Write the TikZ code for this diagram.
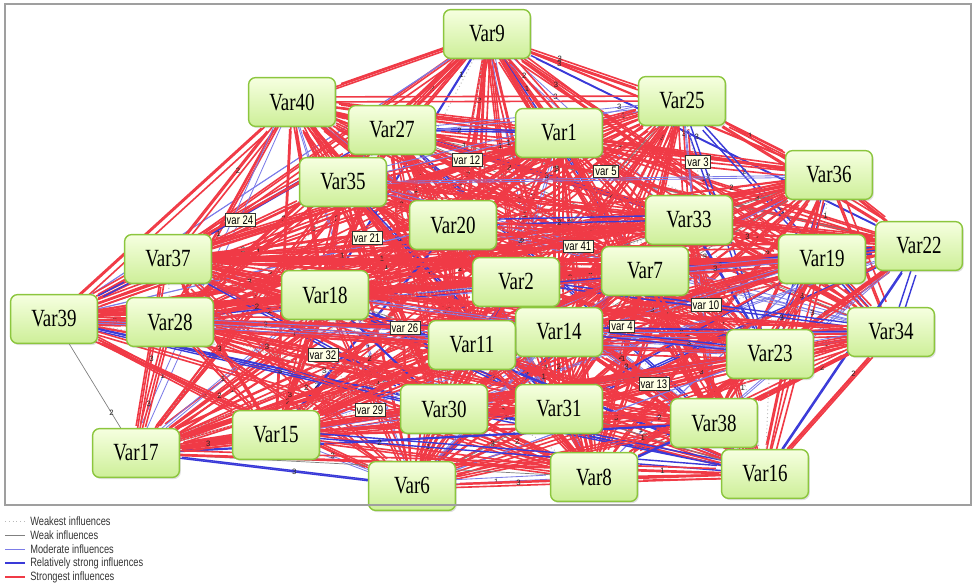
\documentclass[tikz,border=0pt]{standalone}
\usepackage{fontspec}
\setmainfont{Liberation Serif}
\setsansfont{Liberation Sans}
\usetikzlibrary{backgrounds,shadows}
\definecolor{nodeTop}{HTML}{F6FFE0}
\definecolor{nodeBot}{HTML}{CDEF98}
\definecolor{nodeBorder}{HTML}{8CC63E}
\definecolor{strongRed}{HTML}{F03A46}
\definecolor{relBlue}{HTML}{3A3AD8}
\definecolor{modBlue}{HTML}{7C7CE8}
\definecolor{tagFill}{HTML}{FFFFE4}
\newcommand{\vlab}[1]{\scalebox{1}[1.3]{#1}}
\newcommand{\allnodes}{v9,v40,v27,v1,v25,v36,v35,v20,v33,v22,v19,v37,v2,v7,v18,v39,v28,v34,v14,v11,v23,v30,v31,v38,v15,v17,v6,v8,v16}
\tikzset{
  varbox/.style={draw=nodeBorder, line width=1pt, rounded corners=5pt,
    top color=nodeTop, bottom color=nodeBot,
    minimum width=2.17cm, minimum height=1.22cm, inner sep=0pt,
    font=\fontsize{13.5}{15}\selectfont,
    drop shadow={shadow xshift=1pt, shadow yshift=-1.2pt, opacity=0.25}},
  tagbox/.style={draw=black!80, fill=tagFill, line width=0.6pt, inner sep=1.2pt,
    font=\sffamily\fontsize{6.8}{7}\selectfont},
  strongest/.style={draw=strongRed, line width=1.15pt},
  relstrong/.style={draw=relBlue, line width=1pt},
  moderate/.style={draw=modBlue, line width=0.6pt},
  weak/.style={draw=gray, line width=0.5pt},
  weakest/.style={draw=gray!55, line width=0.7pt, dotted},
  edgelab/.style={font=\sffamily\fontsize{5.5}{6}\selectfont, text=black!85, inner sep=0.5pt},
  legtext/.style={font=\sffamily\fontsize{6.6}{7}\selectfont, anchor=west, inner sep=0pt, text=black!80},
}
\begin{document}
\begin{tikzpicture}[x=0.025cm, y=-0.025cm]
\useasboundingbox (0,0) rectangle (975,585);

% nodes
\node[varbox] (v9)  at (487,34)  {\vlab{Var9}};
\node[varbox] (v40) at (292,102) {\vlab{Var40}};
\node[varbox] (v27) at (392,130) {\vlab{Var27}};
\node[varbox] (v1)  at (559,133) {\vlab{Var1}};
\node[varbox] (v25) at (682,101) {\vlab{Var25}};
\node[varbox] (v36) at (829,175) {\vlab{Var36}};
\node[varbox] (v35) at (343,182) {\vlab{Var35}};
\node[varbox] (v20) at (453,225) {\vlab{Var20}};
\node[varbox] (v33) at (689,220) {\vlab{Var33}};
\node[varbox] (v22) at (919,246) {\vlab{Var22}};
\node[varbox] (v19) at (822,259) {\vlab{Var19}};
\node[varbox] (v37) at (168,259) {\vlab{Var37}};
\node[varbox] (v2)  at (516,282) {\vlab{Var2}};
\node[varbox] (v7)  at (645,271) {\vlab{Var7}};
\node[varbox] (v18) at (325,295) {\vlab{Var18}};
\node[varbox] (v39) at (54,319)  {\vlab{Var39}};
\node[varbox] (v28) at (170,322) {\vlab{Var28}};
\node[varbox] (v34) at (891,332) {\vlab{Var34}};
\node[varbox] (v14) at (559,332) {\vlab{Var14}};
\node[varbox] (v11) at (472,345) {\vlab{Var11}};
\node[varbox] (v23) at (770,354) {\vlab{Var23}};
\node[varbox] (v30) at (444,409) {\vlab{Var30}};
\node[varbox] (v31) at (559,409) {\vlab{Var31}};
\node[varbox] (v38) at (714,423) {\vlab{Var38}};
\node[varbox] (v15) at (276,435) {\vlab{Var15}};
\node[varbox] (v17) at (136,453) {\vlab{Var17}};
\node[varbox] (v6)  at (412,486) {\vlab{Var6}};
\node[varbox] (v8)  at (594,477) {\vlab{Var8}};
\node[varbox] (v16) at (765,474) {\vlab{Var16}};

% tags
\node[tagbox] (t12) at (467,160) {\vlab{var 12}};
\node[tagbox] (t5)  at (606,171) {\vlab{var 5}};
\node[tagbox] (t3)  at (698,162) {\vlab{var 3}};
\node[tagbox] (t24) at (240,220) {\vlab{var 24}};
\node[tagbox] (t21) at (367,238) {\vlab{var 21}};
\node[tagbox] (t41) at (578,246) {\vlab{var 41}};
\node[tagbox] (t10) at (706,305) {\vlab{var 10}};
\node[tagbox] (t26) at (405,328) {\vlab{var 26}};
\node[tagbox] (t4)  at (622,326) {\vlab{var 4}};
\node[tagbox] (t32) at (323,355) {\vlab{var 32}};
\node[tagbox] (t13) at (654,384) {\vlab{var 13}};
\node[tagbox] (t29) at (370,410) {\vlab{var 29}};

% connectors
\pgfmathsetseed{11}
\begin{pgfonlayer}{background}
\foreach \a [count=\i] in \allnodes {
  \foreach \b [count=\j] in \allnodes {
    \ifnum\i<\j
      \pgfmathrandominteger{\r}{1}{100}
      \pgfmathrandominteger{\lab}{1}{3}
      \pgfmathrandominteger{\q}{1}{10}
      \pgfmathrandominteger{\dxa}{-5}{5}
      \pgfmathrandominteger{\dya}{-5}{5}
      \pgfmathrandominteger{\dxb}{-5}{5}
      \pgfmathrandominteger{\dyb}{-5}{5}
      \pgfmathsetmacro{\p}{0.05+0.9*rnd}
      \ifnum\r<64 \def\st{strongest}\else
        \ifnum\r<76 \def\st{relstrong}\else
          \ifnum\r<89 \def\st{moderate}\else
            \ifnum\r<92 \def\st{weak}\else \def\st{weakest}\fi\fi\fi\fi
      \draw[\st] (\a) -- (\b);
      \ifnum\r<89
        \draw[\st, transform canvas={shift={(\dxa,\dya)}}] (\a) -- (\b);
      \fi
      \ifnum\r<58
        \draw[\st, transform canvas={shift={(\dxb,\dyb)}}] (\a) -- (\b);
      \fi
      \ifnum\q<10
        \path (\a) -- (\b) coordinate[pos=\p] (lp);
        \gdef\labok{1}
        \foreach \n in {v9,v40,v27,v1,v25,v36,v35,v20,v33,v22,v19,v37,v2,v7,v18,v39,v28,v34,v14,v11,v23,v30,v31,v38,v15,v17,v6,v8,v16} {
          \pgfpointdiff{\pgfpointanchor{\n}{center}}{\pgfpointanchor{lp}{center}}
          \pgfgetlastxy{\ddx}{\ddy}
          \pgfmathsetmacro{\hit}{and(abs(\ddx)<35,abs(\ddy)<22)}
          \ifdim\hit pt>0.5pt \gdef\labok{0}\fi
        }
        \foreach \n in {t12,t5,t3,t24,t21,t41,t10,t26,t4,t32,t13,t29} {
          \pgfpointdiff{\pgfpointanchor{\n}{center}}{\pgfpointanchor{lp}{center}}
          \pgfgetlastxy{\ddx}{\ddy}
          \pgfmathsetmacro{\hit}{and(abs(\ddx)<22,abs(\ddy)<10)}
          \ifdim\hit pt>0.5pt \gdef\labok{0}\fi
        }
        \ifnum\labok=1
          \node[edgelab] (lab-\i-\j) at (lp) {\lab};
        \fi
      \fi
    \fi
  }
}
\end{pgfonlayer}

% frame
\draw[gray!75, line width=0.8pt] (5,4) rectangle (971,505);

% legend
\coordinate (l1a) at (5,521); \coordinate (l1b) at (25,521);
\coordinate (l2a) at (5,535); \coordinate (l2b) at (25,535);
\coordinate (l3a) at (5,549); \coordinate (l3b) at (25,549);
\coordinate (l4a) at (5,563); \coordinate (l4b) at (25,563);
\coordinate (l5a) at (5,577); \coordinate (l5b) at (25,577);
\draw[weakest] (l1a) -- (l1b);
\draw[weak] (l2a) -- (l2b);
\draw[moderate] (l3a) -- (l3b);
\draw[relstrong, line width=1.5pt] (l4a) -- (l4b);
\draw[strongest, line width=1.5pt] (l5a) -- (l5b);
\node[legtext] (lt1) at (30,521) {\vlab{Weakest influences}};
\node[legtext] (lt2) at (30,535) {\vlab{Weak influences}};
\node[legtext] (lt3) at (30,549) {\vlab{Moderate influences}};
\node[legtext] (lt4) at (30,563) {\vlab{Relatively strong influences}};
\node[legtext] (lt5) at (30,577) {\vlab{Strongest influences}};
\end{tikzpicture}
\end{document}
